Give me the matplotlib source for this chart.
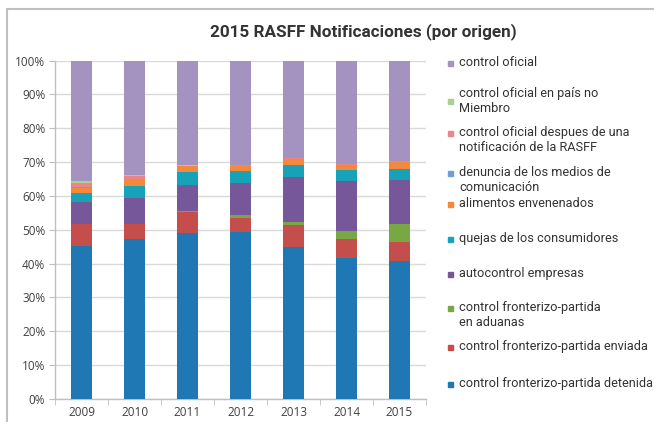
import numpy as np
import matplotlib
matplotlib.use("Agg")
import matplotlib.pyplot as plt
from matplotlib.patches import Rectangle

# Data (percent of notifications per year)
years = ["2009", "2010", "2011", "2012", "2013", "2014", "2015"]

detenida = [45.3, 47.2, 49.0, 49.2, 44.9, 41.8, 40.7]
enviada = [6.3, 4.6, 6.3, 4.4, 6.5, 5.5, 5.7]
aduanas = [0.0, 0.0, 0.2, 0.8, 1.0, 2.2, 5.4]
autocontrol = [6.7, 7.5, 7.6, 9.3, 13.2, 14.8, 12.8]
quejas = [2.7, 3.7, 4.1, 3.8, 3.5, 3.3, 3.4]
alimentos = [1.4, 1.9, 1.5, 1.2, 1.7, 1.5, 2.0]
denuncia = [0.3, 0.1, 0.1, 0.1, 0.1, 0.1, 0.1]
despues = [1.0, 0.9, 0.1, 0.2, 0.2, 0.1, 0.1]
pais = [0.6, 0.3, 0.1, 0.1, 0.1, 0.1, 0.1]
oficial = [35.7, 33.8, 31.0, 30.9, 28.8, 30.6, 29.7]

# bottom -> top stacking order
series = [
    (detenida, "control fronterizo-partida detenida", "#1f77b4"),
    (enviada, "control fronterizo-partida enviada", "#c44e4b"),
    (aduanas, "control fronterizo-partida\nen aduanas", "#77a843"),
    (autocontrol, "autocontrol empresas", "#76579a"),
    (quejas, "quejas de los consumidores", "#17a2b8"),
    (alimentos, "alimentos envenenados", "#f5883a"),
    (denuncia, "denuncia de los medios de\ncomunicación", "#6f9fd8"),
    (despues, "control oficial despues de una\nnotificación de la RASFF", "#e9868b"),
    (pais, "control oficial en país no\nMiembro", "#a9d08e"),
    (oficial, "control oficial", "#a493c1"),
]

W, H = 654, 422
fig = plt.figure(figsize=(W / 100, H / 100), dpi=100)
ax = fig.add_axes([55 / W, 1 - 399 / H, (426 - 55) / W, (399 - 60.5) / H])

x = np.arange(len(years))
bottom = np.zeros(len(years))
for vals, label, color in series:
    ax.bar(x, vals, 0.4, bottom=bottom, color=color, label=label, zorder=3)
    bottom += np.array(vals)

ax.set_xlim(-0.5, len(years) - 0.5)
ax.set_ylim(0, 100)
ax.set_yticks(np.arange(0, 101, 10))
ax.set_yticklabels([f"{v}%" for v in range(0, 101, 10)])
ax.set_xticks(x)
ax.set_xticklabels(years)
ax.tick_params(axis="x", length=0, pad=5, labelsize=8.5, labelcolor="#404040")
ax.tick_params(axis="y", length=4, color="#bfbfbf", pad=3, labelsize=8.5, labelcolor="#404040")
# category separator ticks on the x axis
ax.set_xticks(np.arange(-0.5, len(years), 1), minor=True)
ax.tick_params(axis="x", which="minor", length=4, color="#bfbfbf", direction="out")
for lbl in ax.get_xticklabels() + ax.get_yticklabels():
    lbl.set_family("Open Sans")

ax.grid(axis="y", color="#d9d9d9", linewidth=1, zorder=0)
for s in ["top", "right"]:
    ax.spines[s].set_visible(False)
for s in ["left", "bottom"]:
    ax.spines[s].set_color("#bfbfbf")
    ax.spines[s].set_linewidth(1)

fig.text(363 / W, 1 - 32 / H, "2015 RASFF Notificaciones (por origen)",
         ha="center", va="center", fontsize=12.3, fontweight="bold",
         color="#333333", family="Roboto")

# legend, drawn by hand to match the uneven Excel layout (top -> bottom)
leg_rows = [63, 101, 133, 173, 204, 239, 274, 308, 347, 384]
leg_text_y = [63, 94, 133, 173, 204, 239, 274, 308, 347, 384]
for (vals, label, color), ym, yt in zip(series[::-1], leg_rows, leg_text_y):
    fig.patches.append(Rectangle((448 / W, 1 - (ym + 2.5) / H), 5 / W, 5 / H,
                                 transform=fig.transFigure, color=color))
    fig.text(459 / W, 1 - (yt - 7) / H, label, ha="left", va="top",
             fontsize=9.2, color="#333333", family="Roboto", linespacing=1.2)

# outer chart border
fig.patches.append(Rectangle((7 / W, -0.1), 1.2, 0.1 + 1 - 9 / H,
                             transform=fig.transFigure, fill=False,
                             edgecolor="#c0c0c0", linewidth=1.5))

fig.savefig("out.png", dpi=100)
